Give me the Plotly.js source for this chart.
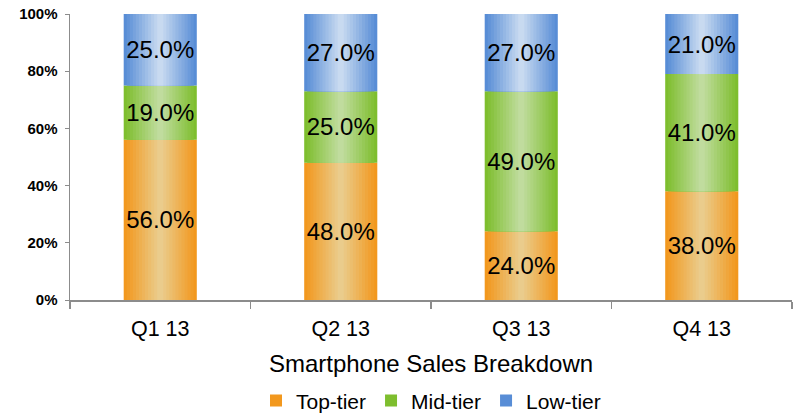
<!DOCTYPE html>
<html><head><meta charset="utf-8">
<script src="https://cdn.plot.ly/plotly-3.0.1.min.js"></script>
<style>html,body{margin:0;padding:0;background:#fff}#chart{width:794px;height:414px}</style>
</head><body><div id="chart"></div>
<script>
const quarters = ['Q1 13', 'Q2 13', 'Q3 13', 'Q4 13'];
const tierNames = ['Top-tier', 'Mid-tier', 'Low-tier'];
const topTier = [56, 48, 24, 38];
const midTier = [19, 25, 49, 41];
const lowTier = [25, 27, 27, 21];
const yTickLabels = ['0%', '20%', '40%', '60%', '80%', '100%'];

const series = [topTier, midTier, lowTier];
const edgeColors = [[242, 152, 30], [126, 190, 46], [88, 141, 214]];
const centerColors = [[234, 204, 140], [192, 220, 158], [200, 218, 240]];
const BAR_W = 0.405;
const LAYERS = 12;

function mix(a, b, t) {
  return 'rgb(' + a.map((v, i) => Math.round(v + (b[i] - v) * t)).join(',') + ')';
}

const traces = [];
const bases = series.map((s, si) => s.map((v, qi) => {
  let b = 0; for (let j = 0; j < si; j++) b += series[j][qi]; return b / 100;
}));

series.forEach((s, si) => {
  for (let k = 0; k < LAYERS; k++) {
    const t = k / (LAYERS - 1);
    traces.push({
      type: 'bar', x: quarters, y: s.map(v => v / 100), base: bases[si],
      width: BAR_W * (1 - k / LAYERS),
      marker: {color: mix(edgeColors[si], centerColors[si], t), line: {width: 0}},
      name: tierNames[si], legendgroup: tierNames[si], showlegend: k === 0,
      hoverinfo: 'skip'
    });
  }
});
series.forEach((s, si) => {
  traces.push({
    type: 'bar', x: quarters, y: s.map(v => v / 100), base: bases[si],
    width: BAR_W, marker: {color: 'rgba(0,0,0,0)'},
    text: s.map(v => v.toFixed(1) + '%'), textposition: 'inside', textangle: 0,
    insidetextanchor: 'middle', constraintext: 'none',
    textfont: {family: 'Arial, Liberation Sans, sans-serif', size: 24, color: '#000'},
    showlegend: false, hoverinfo: 'skip'
  });
});

const layout = {
  width: 794, height: 414,
  margin: {l: 70, r: 2, t: 14, b: 114, autoexpand: false},
  barmode: 'overlay',
  paper_bgcolor: '#fff', plot_bgcolor: '#fff',
  font: {family: 'Arial, Liberation Sans, sans-serif', color: '#000'},
  showlegend: true,
  legend: {orientation: 'h', x: 0.5, xanchor: 'center', yref: 'container', y: 0.032, yanchor: 'middle',
           font: {size: 21}, itemwidth: 30, traceorder: 'normal', borderwidth: 0,
           bgcolor: 'rgba(0,0,0,0)'},
  xaxis: {
    type: 'category', range: [-0.5, 3.5], tickson: 'boundaries', automargin: false,
    ticks: 'outside', ticklen: 7, tickcolor: '#8c8c8c', tickwidth: 1.5,
    showline: true, linecolor: '#8c8c8c', linewidth: 2, showgrid: false,
    tickfont: {size: 21.5}, ticklabelstandoff: 8,
    title: {text: 'Smartphone Sales Breakdown', font: {size: 24}, standoff: 15}
  },
  yaxis: {
    range: [0, 1], tickmode: 'array', tickvals: [0, 0.2, 0.4, 0.6, 0.8, 1], automargin: false,
    ticktext: yTickLabels, ticks: 'outside', ticklen: 4, tickcolor: '#8c8c8c',
    showline: true, linecolor: '#8c8c8c', linewidth: 1.5, showgrid: false, zeroline: false,
    tickfont: {size: 15, weight: 'bold'}, ticklabelstandoff: 4
  }
};

Plotly.newPlot('chart', traces, layout, {displayModeBar: false, staticPlot: true});
</script></body></html>
